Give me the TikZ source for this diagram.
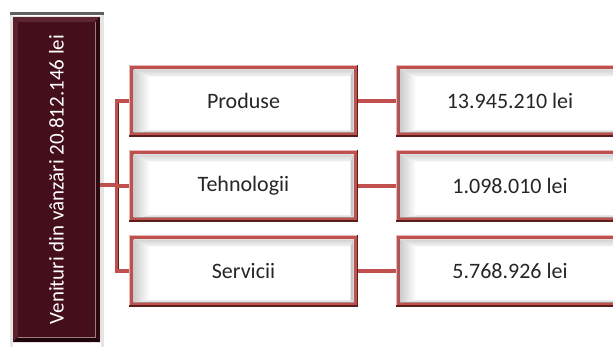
\documentclass[tikz,border=0pt]{standalone}
\usepackage{fontspec}
\setmainfont{Carlito}
\usetikzlibrary{calc}
\definecolor{boxred}{HTML}{C0504D}
\definecolor{boxdark}{HTML}{5A1E1C}
\definecolor{boxpink}{HTML}{E6B9B8}
\definecolor{maroon}{HTML}{440E1A}
\definecolor{maroonlt}{HTML}{5E2430}
\definecolor{maroondk}{HTML}{1E0509}
\definecolor{txt}{HTML}{262626}
\tikzset{
  bevelbox/.style={rectangle, inner sep=0pt, outer sep=0pt,
    minimum width=229pt, minimum height=72pt, text=txt,
    font=\fontsize{22}{26}\selectfont,
    path picture={
      \path (path picture bounding box.south west) coordinate (oSW)
            (path picture bounding box.north east) coordinate (oNE);
      \fill[boxred] (oSW) rectangle (oNE);
      \fill[boxpink] (oSW|-oNE) rectangle ($(oNE)+(0,-1pt)$);
      \fill[boxpink] (oSW) rectangle ($(oSW|-oNE)+(1pt,0)$);
      \fill[boxdark] ($(oNE)+(-1.5pt,0)$) rectangle (oNE|-oSW);
      \fill[boxdark] (oSW) rectangle ($(oNE|-oSW)+(0,1.5pt)$);
      \path ($(oSW)+(4.5pt,4.5pt)$) coordinate (iSW) ($(oNE)+(-4.5pt,-4.5pt)$) coordinate (iNE);
      \fill[boxdark!70] ($(iSW)+(-0.8pt,-0.8pt)$) rectangle ($(iNE)+(0.8pt,0.8pt)$);
      \fill[white] (iSW) rectangle (iNE);
      \shade[top color=gray!35, bottom color=gray!8]
        (iSW|-iNE) -- (iNE) -- ($(iNE)+(-3pt,-7pt)$) -- ($(iSW|-iNE)+(16pt,-7pt)$) -- cycle;
      \shade[left color=gray!40, right color=white]
        (iSW) -- (iSW|-iNE) -- ($(iSW|-iNE)+(16pt,-7pt)$) -- ($(iSW)+(16pt,2pt)$) -- cycle;
      \fill[gray!45]
        (iNE) -- (iNE|-iSW) -- ($(iNE|-iSW)+(-3pt,2pt)$) -- ($(iNE)+(-3pt,-7pt)$) -- cycle;
      \fill[gray!25]
        (iSW) -- (iNE|-iSW) -- ($(iNE|-iSW)+(-3pt,2pt)$) -- ($(iSW)+(16pt,2pt)$) -- cycle;
    }},
  leftbox/.style={rectangle, inner sep=0pt, outer sep=0pt,
    minimum width=87pt, minimum height=325pt,
    path picture={
      \path (path picture bounding box.south west) coordinate (lSW)
            (path picture bounding box.north east) coordinate (lNE);
      \fill[maroon] (lSW) rectangle (lNE);
      \path ($(lSW)+(5pt,5pt)$) coordinate (kSW) ($(lNE)+(-5pt,-5pt)$) coordinate (kNE);
      \fill[maroonlt] (lSW|-lNE) -- (lNE) -- (kNE) -- (kSW|-kNE) -- cycle;
      \fill[maroonlt!85!maroon] (lSW) -- (lSW|-lNE) -- (kSW|-kNE) -- (kSW) -- cycle;
      \fill[maroondk] (lSW) -- (lNE|-lSW) -- (kNE|-kSW) -- (kSW) -- cycle;
      \fill[maroondk!60!maroon] (lNE) -- (lNE|-lSW) -- (kNE|-kSW) -- (kNE) -- cycle;
      \draw[maroonlt!60!white, line width=0.4pt] (kSW) rectangle (kNE);
      \fill[maroon] (kSW) rectangle (kNE);
    }},
  conn/.style={draw=boxred, line width=3.5pt},
  connshadow/.style={draw=boxdark, line width=1.2pt}
}
\begin{document}
\begin{tikzpicture}[x=1pt, y=-1pt]
\useasboundingbox (0,0) rectangle (613,347);
\clip (0,0) rectangle (613,347);
% gray frame behind the left box
\fill[gray!20] (10,13) rectangle (104,347);
\fill[gray!75!black] (10,12.5) rectangle (104,15);
\fill[white] (13,15) rectangle (101,347);
\node[leftbox] (L) at (56.5,179.5) {};
\node[rotate=90, text=white, font=\fontsize{21}{24}\selectfont] (Lt) at (L.center) {Venituri din vânzări 20.812.146 lei};
% junction
\coordinate (j) at (117,185);
% connectors
\draw[conn] (L.east |- j) -- (j);
\node[bevelbox] (P) at (243.5,101) {Produse};
\node[bevelbox] (T) at (243.5,186) {Tehnologii};
\node[bevelbox] (S) at (243.5,271) {Servicii};
\node[bevelbox] (P2) at (510,101) {13.945.210 lei};
\node[bevelbox] (T2) at (510,186) {1.098.010 lei};
\node[bevelbox] (S2) at (510,271) {5.768.926 lei};
\draw[conn] (P.west) -| (j |- S.west) -- (S.west);
\draw[connshadow] ($(j |- P.west)+(1.2pt,-1.7pt)$) -- ($(j |- S.west)+(1.2pt,1.7pt)$);
\draw[conn] (T.west) -- (j |- T.west);
\draw[conn] (P.east) -- (P2.west);
\draw[conn] (T.east) -- (T2.west);
\draw[conn] (S.east) -- (S2.west);
\end{tikzpicture}
\end{document}
